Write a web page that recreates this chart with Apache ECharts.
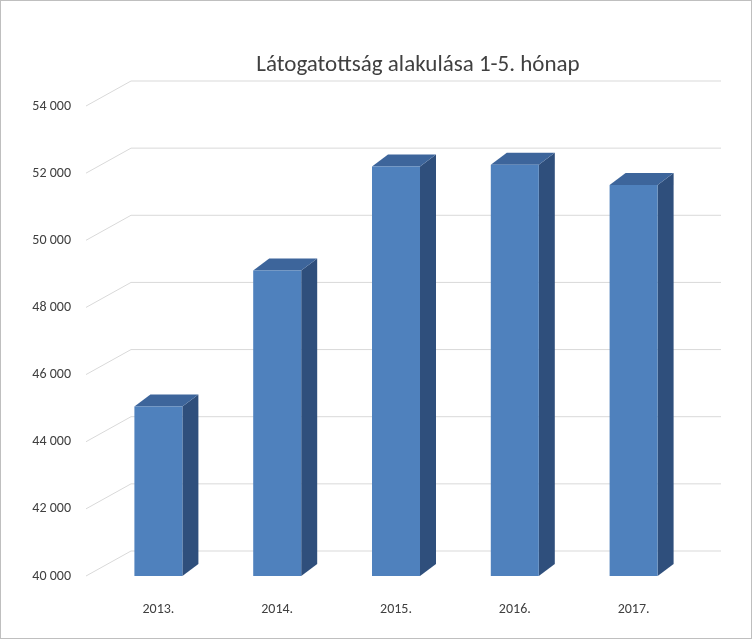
<!DOCTYPE html>
<html><head><meta charset="utf-8">
<script src="https://cdn.jsdelivr.net/npm/echarts@6/dist/echarts.min.js"></script>
<style>html,body{margin:0;padding:0;background:#fff}#c{width:752px;height:639px;box-sizing:border-box;border:1px solid #bfbfbf}</style>
</head><body><div id="c"></div>
<script>
const categories = ['2013.', '2014.', '2015.', '2016.', '2017.'];
const values = [45050, 49100, 52200, 52250, 51650];
const ticks = [40000, 42000, 44000, 46000, 48000, 50000, 52000, 54000];
const chart = echarts.init(document.getElementById('c'));
const BW = 24, DX = 16, DY = -12, GDX = 45, GDY = -25;
chart.setOption({
  animation: false,
  title: { text: 'Látogatottság alakulása 1-5. hónap', left: 412, top: 48, textAlign: 'center',
    textStyle: { fontFamily: 'Calibri, Carlito, "Open Sans", sans-serif', fontSize: 23, fontWeight: 'normal', color: '#404040' } },
  grid: { left: 98, right: 58, top: 105, bottom: 62 },
  xAxis: { type: 'category', data: categories, axisLine: { show: false }, axisTick: { show: false },
    axisLabel: { margin: 26, fontSize: 14, color: '#404040', fontFamily: 'Calibri, Carlito, sans-serif' } },
  yAxis: { type: 'value', min: 40000, max: 54000, interval: 2000, splitLine: { show: false },
    axisLabel: { margin: 28, fontSize: 14, color: '#404040', fontFamily: 'Calibri, Carlito, sans-serif',
      formatter: v => String(v).replace(/(\d)(?=(\d{3})+$)/g, '$1 ') } },
  series: [
    { type: 'custom', z: 1, silent: true, data: ticks.map(t => [0, t]),
      renderItem: (p, api) => {
        const y = api.coord([0, api.value(1)])[1];
        const cs = p.coordSys;
        const x0 = cs.x - 13, xb = x0 + GDX, xe = cs.x + cs.width + 28;
        return { type: 'polyline', shape: { points: [[x0, y], [xb, y + GDY], [xe, y + GDY]] },
          style: { stroke: '#d9d9d9', lineWidth: 1, fill: null } };
      } },
    { type: 'custom', z: 2, data: values.map((v, i) => [i, v]),
      renderItem: (p, api) => {
        const [x, yt] = api.coord([api.value(0), api.value(1)]);
        const yb = api.coord([api.value(0), 40000])[1];
        return { type: 'group', children: [
          { type: 'polygon', shape: { points: [[x + BW, yt], [x + BW + DX, yt + DY], [x + BW + DX, yb + DY], [x + BW, yb]] },
            style: { fill: '#2f4f7c' } },
          { type: 'polygon', shape: { points: [[x - BW, yt], [x + BW, yt], [x + BW + DX, yt + DY], [x - BW + DX, yt + DY]] },
            style: { fill: '#3d659b' } },
          { type: 'rect', shape: { x: x - BW, y: yt, width: 2 * BW, height: yb - yt },
            style: { fill: '#4f81bd' } }
        ] };
      } }
  ]
});
</script></body></html>
